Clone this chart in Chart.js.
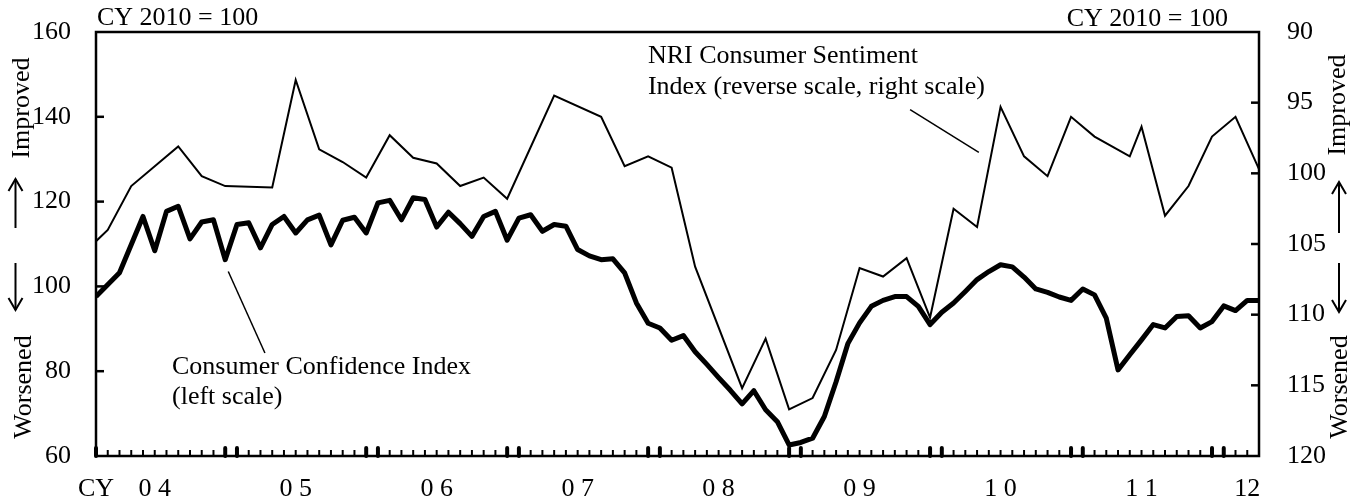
<!DOCTYPE html>
<html>
<head>
<meta charset="utf-8">
<script src="https://cdn.jsdelivr.net/npm/chart.js@4.4.0/dist/chart.umd.min.js"></script>
<style>
  html, body { margin: 0; padding: 0; background: #fff; }
  #wrap { width: 1362px; height: 502px; position: relative; }
</style>
</head>
<body>
<div id="wrap"><canvas id="chart"></canvas></div>
<script>
// Monthly axis, CY2004/01 .. CY2012/04 (index 0..99)
const FONT = "'Liberation Serif', 'Times New Roman', serif";

// x-axis labels: month index -> text
const yearTickIdx = [0, 5, 17, 29, 41, 53, 65, 77, 89, 98];
const yearTickText = ['CY', '0 4', '0 5', '0 6', '0 7', '0 8', '0 9', '1 0', '1 1', '12'];

// Consumer Confidence Index (left scale), one value per month, null = no survey
const cciValues = [
  97.6, null, 103.2, null, 116.5, 108.4, 117.7, 118.9, 111.2, 115.2, 115.7, 106.3,
  114.6, 115.0, 109.1, 114.6, 116.5, 112.6, 115.7, 116.8, 109.8, 115.6, 116.3, 112.6,
  119.7, 120.3, 115.7, 120.9, 120.5, 114.0, 117.5, 114.8, 111.8, 116.5, 117.7, 110.9,
  116.1, 116.9, 113.0, 114.6, 114.2, 108.7, 107.2, 106.3, 106.5, 103.2, 96.1, 91.3,
  90.2, 87.3, 88.4, 84.6, 81.6, 78.5, 75.5, 72.3, 75.4, 70.9, 68.1, 62.6,
  63.2, 64.2, 69.3, 77.5, 86.5, 91.4, 95.3, 96.7, 97.6, 97.6, 95.3, 91.0,
  93.9, 96.1, 98.8, 101.6, 103.5, 105.1, 104.6, 102.2, 99.4, 98.6, 97.5, 96.7,
  99.4, 98.0, 92.5, 80.3, 83.9, 87.4, 91.0, 90.2, 92.9, 93.1, 90.2, 91.7,
  95.4, 94.3, 96.7, 96.7
];

// NRI Consumer Sentiment Index (right scale, reversed): survey month index and value
const nriMonth = [0, 1, 3, 7, 9, 11, 15, 17, 19, 21, 23, 25, 27, 29, 31, 33, 35, 39, 43, 45,
  47, 49, 51, 55, 57, 59, 61, 63, 65, 67, 69, 71, 73, 75, 77, 79, 81, 83, 85, 88,
  89, 91, 93, 95, 97, 99];
const nriValues = [104.8, 104.0, 100.9, 98.1, 100.2, 100.9, 101.0, 93.4, 98.3, 99.2, 100.3, 97.3, 98.9, 99.3, 100.9, 100.3, 101.8, 94.5, 96.0, 99.5,
  98.8, 99.6, 106.6, 115.2, 111.7, 116.7, 115.9, 112.5, 106.7, 107.3, 106.0, 110.2, 102.5, 103.8, 95.3, 98.8, 100.2, 96.0, 97.4, 98.8,
  96.7, 103.0, 100.9, 97.4, 96.0, 99.7];

const leftTicks = [80, 100, 120, 140];
const rightTicks = [95, 100, 105, 110, 115];

const cciPoints = cciValues.map((v, i) => ({ x: i, y: v }));
const nriPoints = nriMonth.map((m, i) => ({ x: m, y: nriValues[i] }));

// y scales: fixed width, and drop the label half-height padding so the plot fills the frame
function fixY(width) {
  return (scale) => {
    scale.width = width;
    scale.paddingTop = 0;
    scale.paddingBottom = 0;
  };
}

// Draws the frame, inward tick marks, side captions and annotations
const decorations = {
  id: 'decorations',
  afterDraw(chart) {
    const { ctx, chartArea: a, scales } = chart;
    const xs = scales.x, yl = scales.yLeft, yr = scales.yRight;
    ctx.save();
    ctx.strokeStyle = '#000';
    ctx.fillStyle = '#000';

    // box
    ctx.lineWidth = 2.5;
    ctx.strokeRect(a.left, a.top, a.right - a.left, a.bottom - a.top);

    // y ticks pointing into the plot
    ctx.lineWidth = 2.5;
    leftTicks.forEach(v => {
      const y = yl.getPixelForValue(v);
      ctx.beginPath(); ctx.moveTo(a.left, y); ctx.lineTo(a.left + 8, y); ctx.stroke();
    });
    rightTicks.forEach(v => {
      const y = yr.getPixelForValue(v);
      ctx.beginPath(); ctx.moveTo(a.right, y); ctx.lineTo(a.right - 8, y); ctx.stroke();
    });

    // monthly ticks, heavier at Dec / Jan
    for (let i = 0; i < cciValues.length; i++) {
      const x = xs.getPixelForValue(i);
      const heavy = (i % 12 === 0 || i % 12 === 11);
      ctx.lineWidth = heavy ? 4 : 2;
      ctx.lineCap = heavy ? 'round' : 'butt';
      ctx.beginPath();
      ctx.moveTo(x, a.bottom);
      ctx.lineTo(x, a.bottom - (heavy ? 8 : 6));
      ctx.stroke();
    }
    ctx.lineCap = 'butt';

    // leader lines
    ctx.lineWidth = 1.5;
    ctx.beginPath();
    ctx.moveTo(xs.getPixelForValue(11.26), yl.getPixelForValue(103.5));
    ctx.lineTo(xs.getPixelForValue(14.38), yl.getPixelForValue(84.3));
    ctx.stroke();
    ctx.beginPath();
    ctx.moveTo(xs.getPixelForValue(69.3), yl.getPixelForValue(141.7));
    ctx.lineTo(xs.getPixelForValue(75.15), yl.getPixelForValue(131.6));
    ctx.stroke();

    ctx.font = '26px ' + FONT;
    ctx.textBaseline = 'middle';
    ctx.textAlign = 'left';
    ctx.fillText('Consumer Confidence Index', xs.getPixelForValue(6.47), yl.getPixelForValue(81.0));
    ctx.fillText('(left scale)', xs.getPixelForValue(6.47), yl.getPixelForValue(73.9));
    ctx.fillText('NRI Consumer Sentiment', xs.getPixelForValue(46.98), yl.getPixelForValue(154.2));
    ctx.fillText('Index (reverse scale, right scale)', xs.getPixelForValue(46.98), yl.getPixelForValue(146.9));

    // unit captions
    ctx.fillText('CY 2010 = 100', a.left + 1, 18);
    ctx.textAlign = 'right';
    ctx.fillText('CY 2010 = 100', a.right - 31, 19);

    // rotated side captions
    const sideText = (txt, x, y) => {
      ctx.save();
      ctx.translate(x, y);
      ctx.rotate(-Math.PI / 2);
      ctx.textAlign = 'center';
      ctx.textBaseline = 'middle';
      ctx.fillText(txt, 0, 0);
      ctx.restore();
    };
    sideText('Improved', 22, 108);
    sideText('Worsened', 24, 387);
    sideText('Improved', 1338, 105);
    sideText('Worsened', 1340, 387);

    // arrows
    const arrow = (x, y1, y2) => {
      ctx.lineWidth = 2;
      ctx.beginPath(); ctx.moveTo(x, y1); ctx.lineTo(x, y2); ctx.stroke();
      const d = y2 > y1 ? 1 : -1;
      ctx.beginPath();
      ctx.moveTo(x - 7, y2 - d * 12); ctx.lineTo(x, y2); ctx.lineTo(x + 7, y2 - d * 12);
      ctx.stroke();
    };
    arrow(15.5, 228, 179);
    arrow(15.5, 263, 310);
    arrow(1339, 233, 182);
    arrow(1339, 263, 312);

    ctx.restore();
  }
};

new Chart(document.getElementById('chart'), {
  type: 'line',
  data: {
    datasets: [
      {
        label: 'Consumer Confidence Index',
        data: cciPoints,
        yAxisID: 'yLeft',
        borderColor: '#000',
        borderWidth: 5,
        borderJoinStyle: 'round',
        pointRadius: 0,
        tension: 0,
        spanGaps: true
      },
      {
        label: 'NRI Consumer Sentiment Index',
        data: nriPoints,
        yAxisID: 'yRight',
        borderColor: '#000',
        borderWidth: 2,
        pointRadius: 0,
        tension: 0,
        spanGaps: true
      }
    ]
  },
  plugins: [decorations],
  options: {
    responsive: true,
    maintainAspectRatio: false,
    devicePixelRatio: 1,
    animation: false,
    layout: { padding: { top: 32, left: 0, right: 0, bottom: 0 } },
    plugins: {
      legend: { display: false },
      tooltip: { enabled: false }
    },
    scales: {
      x: {
        type: 'linear',
        min: 0,
        max: 99,
        afterBuildTicks: (scale) => {
          scale.ticks = yearTickIdx.map(v => ({ value: v }));
        },
        afterFit: (scale) => { scale.height = 46; },
        grid: { display: false, drawTicks: false },
        border: { display: false },
        ticks: {
          autoSkip: false,
          maxRotation: 0,
          minRotation: 0,
          padding: 18,
          color: '#000',
          font: { family: FONT, size: 26 },
          callback: (value) => {
            const k = yearTickIdx.indexOf(value);
            return k >= 0 ? yearTickText[k] : '';
          }
        }
      },
      yLeft: {
        position: 'left',
        min: 60,
        max: 160,
        afterFit: fixY(96),
        grid: { display: false, drawTicks: false },
        border: { display: false },
        ticks: {
          stepSize: 20,
          padding: 25,
          color: '#000',
          font: { family: FONT, size: 26 }
        }
      },
      yRight: {
        position: 'right',
        reverse: true,
        min: 90,
        max: 120,
        afterFit: fixY(103),
        grid: { display: false, drawTicks: false },
        border: { display: false },
        ticks: {
          stepSize: 5,
          padding: 28,
          color: '#000',
          font: { family: FONT, size: 26 }
        }
      }
    }
  }
});
</script>
</body>
</html>
